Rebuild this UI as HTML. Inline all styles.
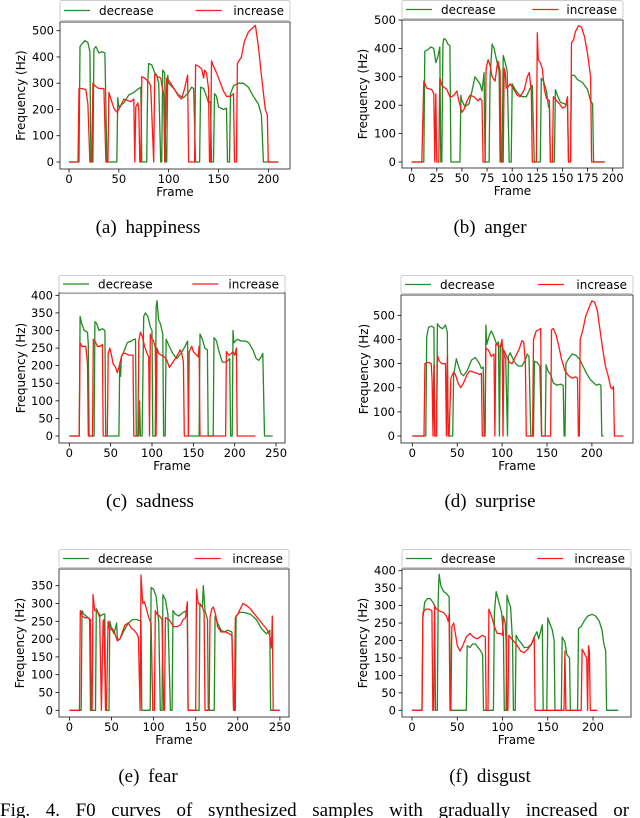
<!DOCTYPE html>
<html><head><meta charset="utf-8"><style>
html,body{margin:0;padding:0;background:#fff;}
svg{display:block;}
.tk{font-family:"DejaVu Sans","Liberation Sans",sans-serif;font-size:11.5px;fill:#000;}
.lb{font-family:"DejaVu Sans","Liberation Sans",sans-serif;font-size:12px;fill:#000;}
.cap{font-family:"Liberation Serif",serif;font-size:19px;fill:#000;}
</style></head><body>
<svg id="fig" width="640" height="818" viewBox="0 0 640 818" xmlns="http://www.w3.org/2000/svg">
<text class="cap" x="148" y="233" text-anchor="middle" word-spacing="4">(a) happiness</text>
<text class="cap" x="490" y="233" text-anchor="middle" word-spacing="4">(b) anger</text>
<text class="cap" x="150" y="507" text-anchor="middle" word-spacing="4">(c) sadness</text>
<text class="cap" x="490" y="507" text-anchor="middle" word-spacing="4">(d) surprise</text>
<text class="cap" x="148" y="782" text-anchor="middle" word-spacing="4">(e) fear</text>
<text class="cap" x="490" y="782" text-anchor="middle" word-spacing="4">(f) disgust</text>
<text id="figcap" class="cap" x="0" y="816">Fig. 4.  F0 curves of synthesized samples with gradually increased or</text>
</svg>
<script>
// ---- data (frame index, F0 in Hz) ----
const happinessDecFrames=[0,10,11,13,16,19,21,22,24,25,27,30,33,36,38,39,48,49,50,55,60,65,70,72,73,78,79,80,83,86,88,90,92,93,94,96,97,98,99,100,105,110,115,120,123,125,127,131,132,135,138,140,142,143,145,146,148,150,155,158,159,161,162,165,170,175,180,185,190,193,195,210];
const happinessDecHz=[0,0,440,450,462,455,420,0,0,430,440,415,420,415,0,0,0,245,210,225,255,265,280,285,0,0,300,375,370,340,330,300,0,0,350,340,0,0,330,300,280,255,245,265,285,280,0,0,285,280,250,225,230,0,0,260,250,210,200,205,0,0,260,290,300,300,285,250,220,180,0,0];
const happinessIncFrames=[0,9,10,13,17,19,21,23,24,26,30,35,37,39,40,42,45,48,50,52,55,58,62,65,66,67,69,70,71,72,73,76,80,82,85,86,89,92,95,96,98,102,106,110,113,116,119,120,126,127,130,133,135,136,138,140,141,142,143,145,148,152,155,158,162,165,166,168,169,173,176,180,184,187,190,193,197,199,200,210];
const happinessIncHz=[0,0,280,280,275,220,0,0,300,290,280,280,0,0,265,240,205,190,200,215,240,235,230,240,0,210,225,200,0,0,325,320,305,290,0,335,325,320,255,0,320,300,275,250,240,280,330,0,0,370,365,355,320,350,340,280,0,0,385,365,340,300,270,250,250,260,0,0,375,400,460,495,510,520,440,330,200,180,0,0];

const angerDecFrames=[0,12,13,16,19,22,24,26,28,29,30,31,32,34,36,38,39,48,49,50,53,57,60,63,66,68,70,72,73,77,78,80,82,85,87,88,90,91,93,95,97,99,100,103,106,110,114,118,120,122,128,129,131,134,136,137,138,142,143,145,148,152,155,156,158,159,162,165,170,175,178,180,181,192];
const angerDecHz=[0,0,390,395,405,400,350,370,405,0,0,415,435,430,415,410,0,0,235,215,195,205,250,300,285,275,250,315,0,0,300,415,400,350,320,0,0,375,350,320,0,0,275,255,240,230,230,260,270,0,0,295,285,250,195,190,0,0,255,235,210,205,200,0,0,305,305,290,280,255,215,205,0,0];
const angerIncFrames=[0,10,12,15,20,22,23,24,25,27,28,30,35,38,40,42,45,47,50,52,55,58,62,66,68,70,71,73,74,76,78,80,83,85,86,88,89,91,92,93,94,96,98,101,105,108,112,115,117,119,120,124,125,126,128,130,132,134,137,138,140,141,143,147,150,153,155,156,158,159,161,163,166,169,172,175,178,179,192];
const angerIncHz=[0,0,285,260,255,240,0,240,0,0,295,270,255,230,230,235,250,215,175,185,215,235,230,215,225,215,0,0,330,360,340,300,285,340,355,320,0,0,330,315,260,265,275,260,235,230,255,300,315,250,0,0,455,360,350,330,255,225,215,0,0,230,220,205,190,195,230,0,0,420,430,460,480,475,440,380,300,0,0];

const sadnessDecFrames=[0,12,13,15,18,22,23,24,30,31,33,36,40,43,44,60,61,62,63,66,70,75,78,80,81,84,85,86,88,90,92,95,98,100,101,104,105,106,108,110,113,114,116,117,120,125,130,135,140,143,144,157,158,161,164,167,168,174,175,178,181,185,190,194,195,197,198,199,203,208,213,217,222,226,229,232,234,236,246];
const sadnessDecHz=[0,0,340,320,300,295,260,0,0,325,320,300,305,300,0,0,200,170,225,240,265,270,275,275,0,0,100,0,0,340,350,340,310,300,0,0,365,385,330,320,290,0,0,275,260,235,220,235,255,270,0,0,290,275,250,245,0,0,280,270,240,210,210,220,0,0,300,265,275,270,270,265,245,220,215,225,235,0,0];
const sadnessIncFrames=[0,12,13,15,18,20,22,23,28,29,31,34,37,40,41,46,47,49,51,53,56,58,60,63,65,68,72,75,77,78,83,84,86,88,91,94,96,97,98,100,102,104,105,106,108,111,115,118,121,124,128,132,134,136,138,139,144,145,148,150,152,154,156,157,158,189,190,193,196,198,200,202,203,225];
const sadnessIncHz=[0,0,265,255,255,255,205,0,0,275,270,255,255,260,0,0,235,250,230,205,195,180,195,225,235,235,230,230,230,0,0,270,295,285,255,235,225,0,290,275,270,250,0,250,235,230,225,215,195,205,220,235,245,235,210,0,0,240,255,240,235,230,225,255,0,0,240,230,235,240,230,250,0,0];

const surpriseDecFrames=[0,15,16,18,21,24,25,27,28,31,34,37,39,40,45,46,49,51,54,57,61,66,70,74,77,79,80,81,82,83,86,88,90,92,94,96,97,98,100,102,104,106,107,109,112,115,118,122,126,128,130,132,135,136,139,142,144,148,149,151,154,157,161,165,168,169,170,171,174,178,182,186,190,194,198,202,205,208,210,211,213];
const surpriseDecHz=[0,0,410,450,455,450,0,0,465,450,445,460,430,0,0,250,320,295,260,250,270,315,325,305,280,285,0,0,460,380,420,435,420,400,380,390,0,370,380,340,320,0,330,345,320,300,290,290,315,340,330,0,0,310,305,290,0,0,295,270,255,220,210,215,210,0,0,300,320,340,335,320,290,260,235,220,210,215,210,0,0];
const surpriseIncFrames=[0,13,14,18,21,22,23,24,25,27,28,30,33,37,38,39,40,41,43,46,48,51,54,57,61,64,68,72,75,77,78,81,82,85,88,91,92,93,96,98,100,101,102,105,108,111,115,119,122,124,126,127,134,135,138,141,143,144,154,155,157,160,163,166,170,174,178,182,184,185,186,187,190,193,196,200,203,206,209,212,215,218,221,223,224,225,235];
const surpriseIncHz=[0,0,300,305,300,230,0,295,0,0,335,310,300,300,0,330,0,0,240,265,255,220,200,220,255,270,265,260,255,260,0,0,365,355,330,340,0,380,375,370,400,0,355,330,305,300,330,360,395,390,300,0,0,400,435,440,445,0,0,440,445,420,375,320,270,250,240,245,240,0,0,400,440,495,525,560,555,520,440,360,290,250,200,195,205,0,0];

const fearDecFrames=[0,14,15,17,20,24,25,31,32,34,37,40,42,43,47,48,50,53,56,57,60,64,70,75,80,85,86,96,97,100,103,106,108,110,111,114,117,120,122,123,126,130,135,140,141,154,155,158,159,161,164,165,172,173,176,180,184,188,193,195,197,198,202,207,215,222,228,234,238,239,245];
const fearDecHz=[0,0,280,270,265,255,0,0,285,275,265,270,270,0,0,250,230,215,245,200,200,220,245,255,255,250,0,0,345,340,320,250,0,0,325,310,270,0,0,280,270,265,275,280,0,0,300,290,350,280,255,0,0,265,245,225,220,225,220,0,0,265,275,275,270,255,230,215,225,0,0];
const fearIncFrames=[0,12,13,15,18,22,25,26,27,28,30,33,36,38,40,41,43,44,46,48,51,54,57,60,63,66,70,74,77,80,82,84,85,87,89,92,95,97,99,101,102,104,107,110,112,113,114,118,121,124,128,132,135,138,140,141,150,151,153,156,158,160,161,166,167,169,171,174,176,180,186,190,193,195,196,197,200,203,206,210,215,220,225,230,234,238,240,241,242,250];
const fearIncHz=[0,0,280,265,260,260,255,0,0,325,280,280,260,0,250,255,0,0,250,225,230,215,195,200,220,240,245,230,225,215,205,0,380,300,305,280,255,245,0,0,280,270,265,255,0,0,260,255,245,235,235,240,255,260,305,0,0,340,300,295,290,275,0,0,260,285,290,265,235,220,220,215,210,0,0,260,270,285,300,295,285,270,255,240,230,210,175,265,0,0];

const disgustDecFrames=[0,11,12,14,17,20,23,25,26,28,29,30,32,35,38,41,43,60,61,64,67,70,73,76,78,79,90,91,93,95,97,99,101,102,104,105,107,109,111,112,114,115,118,120,124,128,132,136,138,140,143,144,145,149,150,152,155,157,158,165,166,169,171,174,175,183,184,187,190,194,199,203,207,210,212,214,215,228];
const disgustDecHz=[0,0,265,310,320,320,310,300,0,0,320,390,355,340,335,325,0,0,185,180,190,190,180,170,160,0,0,280,340,320,300,280,220,0,0,330,310,295,200,0,0,215,200,195,180,180,190,215,225,205,235,245,0,0,265,250,230,200,0,0,210,195,160,150,0,0,235,240,255,270,275,270,255,230,190,170,0,0];
const disgustIncFrames=[0,11,12,15,19,22,23,24,25,27,30,35,38,40,41,42,43,44,46,48,50,53,56,60,64,68,72,75,78,81,82,84,85,88,91,94,98,100,101,103,104,105,106,107,110,115,120,124,128,132,135,136,168,169,170,187,188,190,192,193,194,195,196,197,205];
const disgustIncHz=[0,0,280,290,290,285,0,0,300,290,285,280,270,255,275,0,0,240,250,220,185,170,185,210,220,210,205,210,215,210,0,0,290,270,240,220,220,215,270,250,200,0,0,215,205,190,170,165,175,190,210,0,0,170,0,0,175,165,155,150,0,185,170,0,0];

// tick label values
const happinessXTicks=[0,50,100,150,200], happinessYTicks=[0,100,200,300,400,500];
const angerXTicks=[0,25,50,75,100,125,150,175,200], angerYTicks=[0,100,200,300,400,500];
const sadnessXTicks=[0,50,100,150,200,250], sadnessYTicks=[0,50,100,150,200,250,300,350,400];
const surpriseXTicks=[0,50,100,150,200], surpriseYTicks=[0,100,200,300,400,500];
const fearXTicks=[0,50,100,150,200,250], fearYTicks=[0,50,100,150,200,250,300,350];
const disgustXTicks=[0,50,100,150,200], disgustYTicks=[0,50,100,150,200,250,300,350,400];

// ---- layout (pixel geometry, not data) ----
const panels=[
 {n:'happiness',L:60,R:290,T:22,B:169,lt:0,lb:20,x0:69,xs:0.9967,y0:162,ys:0.2626,yl:39,xt:happinessXTicks,yt:happinessYTicks,d:[happinessDecFrames,happinessDecHz],i:[happinessIncFrames,happinessIncHz]},
 {n:'anger',L:402,R:623,T:20,B:168,lt:0,lb:18,x0:411.7,xs:1.005,y0:162,ys:0.284,yl:39,xt:angerXTicks,yt:angerYTicks,d:[angerDecFrames,angerDecHz],i:[angerIncFrames,angerIncHz]},
 {n:'sadness',L:59,R:285,T:293,B:443,lt:275,lb:292,x0:69.3,xs:0.827,y0:436,ys:0.3517,yl:38,xt:sadnessXTicks,yt:sadnessYTicks,d:[sadnessDecFrames,sadnessDecHz],i:[sadnessIncFrames,sadnessIncHz]},
 {n:'surprise',L:401,R:633,T:295,B:443,lt:275,lb:293,x0:412.3,xs:0.898,y0:436,ys:0.2413,yl:37,xt:surpriseXTicks,yt:surpriseYTicks,d:[surpriseDecFrames,surpriseDecHz],i:[surpriseIncFrames,surpriseIncHz]},
 {n:'fear',L:59,R:289,T:569,B:717,lt:549,lb:567,x0:69.4,xs:0.842,y0:710.3,ys:0.356,yl:39,xt:fearXTicks,yt:fearYTicks,d:[fearDecFrames,fearDecHz],i:[fearIncFrames,fearIncHz]},
 {n:'disgust',L:402,R:631,T:569,B:717,lt:549,lb:567,x0:412,xs:0.905,y0:710.3,ys:0.349,yl:39,xt:disgustXTicks,yt:disgustYTicks,d:[disgustDecFrames,disgustDecHz],i:[disgustIncFrames,disgustIncHz]}
];
const NS='http://www.w3.org/2000/svg';
const svg=document.getElementById('fig');
function mk(tag,attrs,parent){const e=document.createElementNS(NS,tag);for(const k in attrs)e.setAttribute(k,attrs[k]);(parent||svg).appendChild(e);return e;}
panels.forEach(p=>{
 const g=mk('g',{});
 
 
 const xS=f=>p.x0+f*p.xs, yS=v=>p.y0-v*p.ys;
 const fr=mk('rect',{x:p.L,y:p.T,width:p.R-p.L,height:p.B-p.T,fill:'none',stroke:'#444','stroke-width':1},g);
 
 
 p.yt.forEach(v=>{
  const y=yS(v);
  mk('line',{x1:p.L-3.5,x2:p.L,y1:y,y2:y,stroke:'#000','stroke-width':0.8},g);
  const t=mk('text',{x:p.L-6,y:y+4,'text-anchor':'end',class:'tk'},g);t.textContent=v;
  
  
 });
 p.xt.forEach(v=>{
  const x=xS(v);
  mk('line',{x1:x,x2:x,y1:p.B,y2:p.B+3.5,stroke:'#000','stroke-width':0.8},g);
  const t=mk('text',{x:x,y:p.B+14,'text-anchor':'middle',class:'tk'},g);t.textContent=v;
  
  
 });
 const xl=mk('text',{x:(p.L+p.R)/2,y:p.B+27,'text-anchor':'middle',class:'lb'},g);xl.textContent='Frame';
 
 
 const cy=(p.T+p.B)/2, cx=p.L-p.yl;
 const yl=mk('text',{x:cx,y:cy,'text-anchor':'middle',class:'lb',transform:'rotate(-90 '+cx+' '+cy+')',dy:'4'},g);yl.textContent='Frequency (Hz)';
 
 
 [[p.d,'#228b22','decrease-line'],[p.i,'#ff1a1a','increase-line']].forEach(s=>{
  const pts=s[0][0].map((f,k)=>xS(f).toFixed(1)+','+yS(s[0][1][k]).toFixed(1)).join(' ');
  const pl=mk('polyline',{points:pts,fill:'none',stroke:s[1],'stroke-width':1.3,'stroke-linejoin':'round'},g);
  
  
 });
 const lg=mk('g',{},g);
 
 
 mk('rect',{x:p.L,y:p.lt+0.5,width:p.R-p.L,height:p.lb-p.lt,rx:2,fill:'#fff',stroke:'#ccc','stroke-width':1},lg);
 const ly=(p.lt+p.lb)/2+0.5, W=p.R-p.L;
 mk('line',{x1:p.L+4,x2:p.L+30,y1:ly,y2:ly,stroke:'#228b22','stroke-width':1.3},lg);
 const t1=mk('text',{x:p.L+39,y:ly+4.5,class:'lb'},lg);t1.textContent='decrease';
 
 
 mk('line',{x1:p.L+W*0.59,x2:p.L+W*0.59+26,y1:ly,y2:ly,stroke:'#ff1a1a','stroke-width':1.3},lg);
 const t2=mk('text',{x:p.R-6,y:ly+4.5,'text-anchor':'end',class:'lb'},lg);t2.textContent='increase';
 
 
});
// justify figure caption by widening word gaps
const fc=document.getElementById('figcap');
const nat=fc.getComputedTextLength();
const nsp=(fc.textContent.match(/ /g)||[]).length;
if(nat<640&&nsp>0)fc.setAttribute('word-spacing',((640-nat)/nsp).toFixed(2));
</script>
</body></html>
